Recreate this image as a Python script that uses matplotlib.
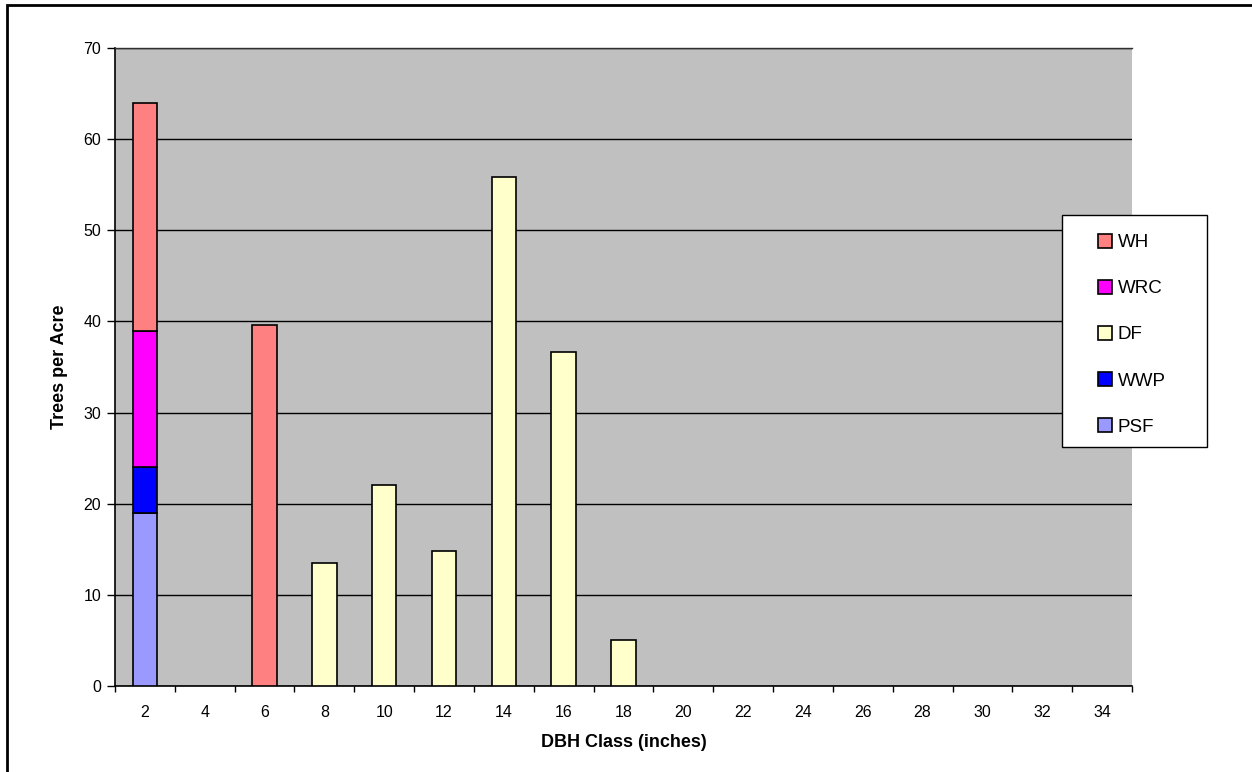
import matplotlib
matplotlib.use('Agg')
from matplotlib import pyplot as plt
from matplotlib.patches import Rectangle, Patch
import numpy as np

plt.rcParams['font.family'] = ['Liberation Sans', 'DejaVu Sans']

# DBH classes (inches) and trees per acre by species
dbh = ['2', '4', '6', '8', '10', '12', '14', '16', '18', '20',
       '22', '24', '26', '28', '30', '32', '34']
psf = [19, 0, 0, 0, 0, 0, 0, 0, 0, 0, 0, 0, 0, 0, 0, 0, 0]
wwp = [5, 0, 0, 0, 0, 0, 0, 0, 0, 0, 0, 0, 0, 0, 0, 0, 0]
df = [0, 0, 0, 13.5, 22.1, 14.8, 55.9, 36.7, 5.0, 0, 0, 0, 0, 0, 0, 0, 0]
wrc = [15, 0, 0, 0, 0, 0, 0, 0, 0, 0, 0, 0, 0, 0, 0, 0, 0]
wh = [25, 0, 39.6, 0, 0, 0, 0, 0, 0, 0, 0, 0, 0, 0, 0, 0, 0]

series = [('PSF', psf, '#9999FF'), ('WWP', wwp, '#0000FF'),
          ('DF', df, '#FFFFCC'), ('WRC', wrc, '#FF00FF'),
          ('WH', wh, '#FF8080')]

fig = plt.figure(figsize=(12.52, 7.72), dpi=100)
ax = fig.add_axes([115 / 1252, 1 - 686 / 772, 1017 / 1252, 638 / 772])
ax.set_facecolor('#C0C0C0')

x = np.arange(len(dbh))
bottom = np.zeros(len(dbh))
colors = {}
for name, vals, color in series:
    vals = np.array(vals, dtype=float)
    bars = ax.bar(x, vals, 0.41, bottom=bottom, color=color,
                  edgecolor='black', linewidth=1.2, zorder=3)
    # hide empty segments
    for b, v in zip(bars, vals):
        if v == 0:
            b.set_visible(False)
    colors[name] = color
    bottom += vals

ax.set_xlim(-0.5, len(dbh) - 0.5)
ax.set_ylim(0, 70)
ax.set_yticks(np.arange(0, 71, 10))
ax.yaxis.grid(True, color='black', linewidth=1, zorder=1)
ax.set_axisbelow(True)

ax.set_xticks(x)
ax.set_xticklabels(dbh)
ax.set_xticks(np.arange(-0.5, len(dbh), 1), minor=True)
ax.tick_params(axis='x', which='major', length=0, pad=13.5, labelsize=11.5)
ax.tick_params(axis='x', which='minor', length=4, width=1, direction='out')
ax.tick_params(axis='y', length=6, width=1, direction='out', pad=4, labelsize=11.5)

for side in ['left', 'bottom']:
    ax.spines[side].set_color('black')
    ax.spines[side].set_linewidth(1.2)
ax.spines['top'].set_color('#303030')
ax.spines['top'].set_linewidth(1)
ax.spines['right'].set_visible(False)

ax.set_xlabel('DBH Class (inches)', fontsize=13, fontweight='bold', labelpad=10)
ax.set_ylabel('Trees per Acre', fontsize=13, fontweight='bold', labelpad=11)

# legend box and entries
fig.patches.append(Rectangle((1062 / 1252, 1 - 447 / 772), 145 / 1252, 232 / 772,
                             transform=fig.transFigure, facecolor='white',
                             edgecolor='black', linewidth=1, zorder=5))
order = ['WH', 'WRC', 'DF', 'WWP', 'PSF']
proxies = [Patch(facecolor=colors[n], edgecolor='black', linewidth=1.2) for n in order]
leg = fig.legend(proxies, order,
                 loc='upper left', bbox_to_anchor=(1081 / 1252, 1 - 217 / 772),
                 frameon=False, fontsize=13.5, handlelength=0.75,
                 handleheight=0.75, handletextpad=0.3, labelspacing=1.53)
leg.set_zorder(6)

# outer frame
fig.patches.append(Rectangle((7 / 1252, -0.1), 1.2, 1 - 5 / 772 + 0.1,
                             transform=fig.transFigure, fill=False,
                             edgecolor='black', linewidth=2))

fig.savefig('out.png', dpi=100)
